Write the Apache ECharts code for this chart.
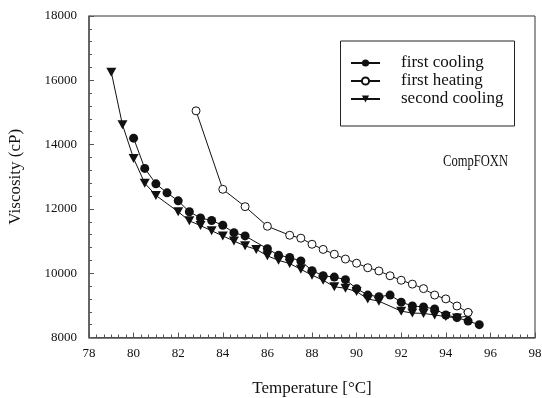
<!DOCTYPE html>
<html>
<head>
<meta charset="utf-8">
<script src="https://cdn.jsdelivr.net/npm/echarts@6/dist/echarts.min.js"></script>
<style>
  html, body { margin: 0; padding: 0; background: #fff; }
  #chart { width: 542px; height: 398px; }
</style>
</head>
<body>
<div id="chart"></div>
<script>
// Viscosity of CompFOXN versus temperature, three thermal runs
const seriesNames = ['first cooling', 'first heating', 'second cooling'];

const firstCoolingT = [80.0, 80.5, 81.0, 81.5, 82.0, 82.5, 83.0, 83.5, 84.0, 84.5, 85.0,
  86.0, 86.5, 87.0, 87.5, 88.0, 88.5, 89.0, 89.5, 90.0, 90.5, 91.0, 91.5, 92.0, 92.5,
  93.0, 93.5, 94.0, 94.5, 95.0, 95.5];
const firstCoolingV = [14200, 13260, 12780, 12500, 12250, 11910, 11720, 11640, 11490, 11260, 11160,
  10760, 10560, 10490, 10380, 10080, 9920, 9880, 9800, 9520, 9320, 9270, 9320, 9100, 8980,
  8950, 8890, 8700, 8620, 8510, 8400];

const firstHeatingT = [82.8, 84.0, 85.0, 86.0, 87.0, 87.5, 88.0, 88.5, 89.0, 89.5, 90.0,
  90.5, 91.0, 91.5, 92.0, 92.5, 93.0, 93.5, 94.0, 94.5, 95.0];
const firstHeatingV = [15050, 12610, 12070, 11460, 11180, 11090, 10900, 10740, 10590, 10440, 10310,
  10170, 10070, 9920, 9780, 9660, 9520, 9320, 9200, 8980, 8780];

const secondCoolingT = [79.0, 79.5, 80.0, 80.5, 81.0, 82.0, 82.5, 83.0, 83.5, 84.0, 84.5,
  85.0, 85.5, 86.0, 86.5, 87.0, 87.5, 88.0, 88.5, 89.0, 89.5, 90.0, 90.5, 91.0, 92.0,
  92.5, 93.0, 93.5, 94.0, 94.5, 95.0];
const secondCoolingV = [16250, 14620, 13570, 12800, 12420, 11910, 11630, 11480, 11320, 11160, 11000,
  10850, 10740, 10540, 10400, 10300, 10120, 9940, 9780, 9580, 9530, 9430, 9200, 9130, 8820,
  8760, 8750, 8700, 8650, 8610, 8670];

// axis ranges: major step and minor step
const xTicks = { min: 78, max: 98, step: 2, minor: 1 / 3 };
const yTicks = { min: 8000, max: 18000, step: 2000, minor: 400 };

function pairs(xs, ys) { return xs.map((x, i) => [x, ys[i]]); }

const serif = 'Liberation Serif, Times New Roman, serif';
const axisGray = '#555';
const ink = '#111';

// secondary axes that only carry the short minor ticks
function minorAxis(t, pos) {
  return {
    type: 'value', position: pos,
    min: t.min, max: t.max, interval: t.minor,
    axisLine: { show: false },
    axisTick: { show: true, inside: true, length: 3, lineStyle: { color: axisGray } },
    axisLabel: { show: false },
    splitLine: { show: false }
  };
}

const chart = echarts.init(document.getElementById('chart'), null, { renderer: 'canvas' });
chart.setOption({
  animation: false,
  backgroundColor: '#fff',
  grid: {
    left: 89, right: 7, top: 16, bottom: 60.5,
    outerBoundsMode: 'none',
    show: true, borderColor: '#333', borderWidth: 1, backgroundColor: 'transparent'
  },
  xAxis: [{
    type: 'value', position: 'bottom',
    min: xTicks.min, max: xTicks.max, interval: xTicks.step,
    name: 'Temperature [°C]', nameLocation: 'middle', nameGap: 43,
    nameTextStyle: { fontFamily: serif, fontSize: 17, color: ink },
    axisLine: { show: true, lineStyle: { color: axisGray, width: 1.5 } },
    axisTick: { show: true, inside: true, length: 5, lineStyle: { color: axisGray } },
    axisLabel: { fontFamily: serif, fontSize: 13, color: ink, margin: 10 },
    splitLine: { show: false }
  }, minorAxis(xTicks, 'bottom')],
  yAxis: [{
    type: 'value', position: 'left',
    min: yTicks.min, max: yTicks.max, interval: yTicks.step,
    name: 'Viscosity (cP)', nameLocation: 'middle', nameGap: 64.5,
    nameTextStyle: { fontFamily: serif, fontSize: 17, color: ink },
    axisLine: { show: true, lineStyle: { color: axisGray, width: 1.5 } },
    axisTick: { show: true, inside: true, length: 5, lineStyle: { color: axisGray } },
    axisLabel: { fontFamily: serif, fontSize: 13, color: ink, margin: 12, formatter: v => String(v) },
    splitLine: { show: false }
  }, minorAxis(yTicks, 'left')],
  legend: {
    data: seriesNames,
    orient: 'vertical',
    left: 350, top: 54,
    padding: 0,
    itemWidth: 29, itemHeight: 9, itemGap: 0,
    textStyle: { fontFamily: serif, fontSize: 17, color: ink, lineHeight: 18, padding: [0, 0, 0, 16] }
  },
  graphic: [
    {
      type: 'rect', left: 340, top: 40.5,
      shape: { width: 174, height: 85 },
      style: { fill: 'transparent', stroke: '#222', lineWidth: 1 },
      z: 10
    },
    {
      type: 'text', left: 443, top: 153, scaleX: 0.74,
      style: { text: 'CompFOXN', font: '17px ' + serif, fill: ink },
      z: 10
    }
  ],
  series: [
    {
      name: 'second cooling', type: 'line',
      data: pairs(secondCoolingT, secondCoolingV),
      symbol: 'triangle', symbolRotate: 180, symbolSize: [10, 9],
      lineStyle: { color: ink, width: 1 },
      itemStyle: { color: ink, borderWidth: 0 },
      z: 2
    },
    {
      name: 'first heating', type: 'line',
      data: pairs(firstHeatingT, firstHeatingV),
      symbol: 'circle', symbolSize: 8,
      lineStyle: { color: ink, width: 1 },
      itemStyle: { color: '#fff', borderColor: ink, borderWidth: 1 },
      z: 3
    },
    {
      name: 'first cooling', type: 'line',
      data: pairs(firstCoolingT, firstCoolingV),
      symbol: 'circle', symbolSize: 9,
      lineStyle: { color: ink, width: 1 },
      itemStyle: { color: ink, borderWidth: 0 },
      z: 4
    }
  ]
});
</script>
</body>
</html>
